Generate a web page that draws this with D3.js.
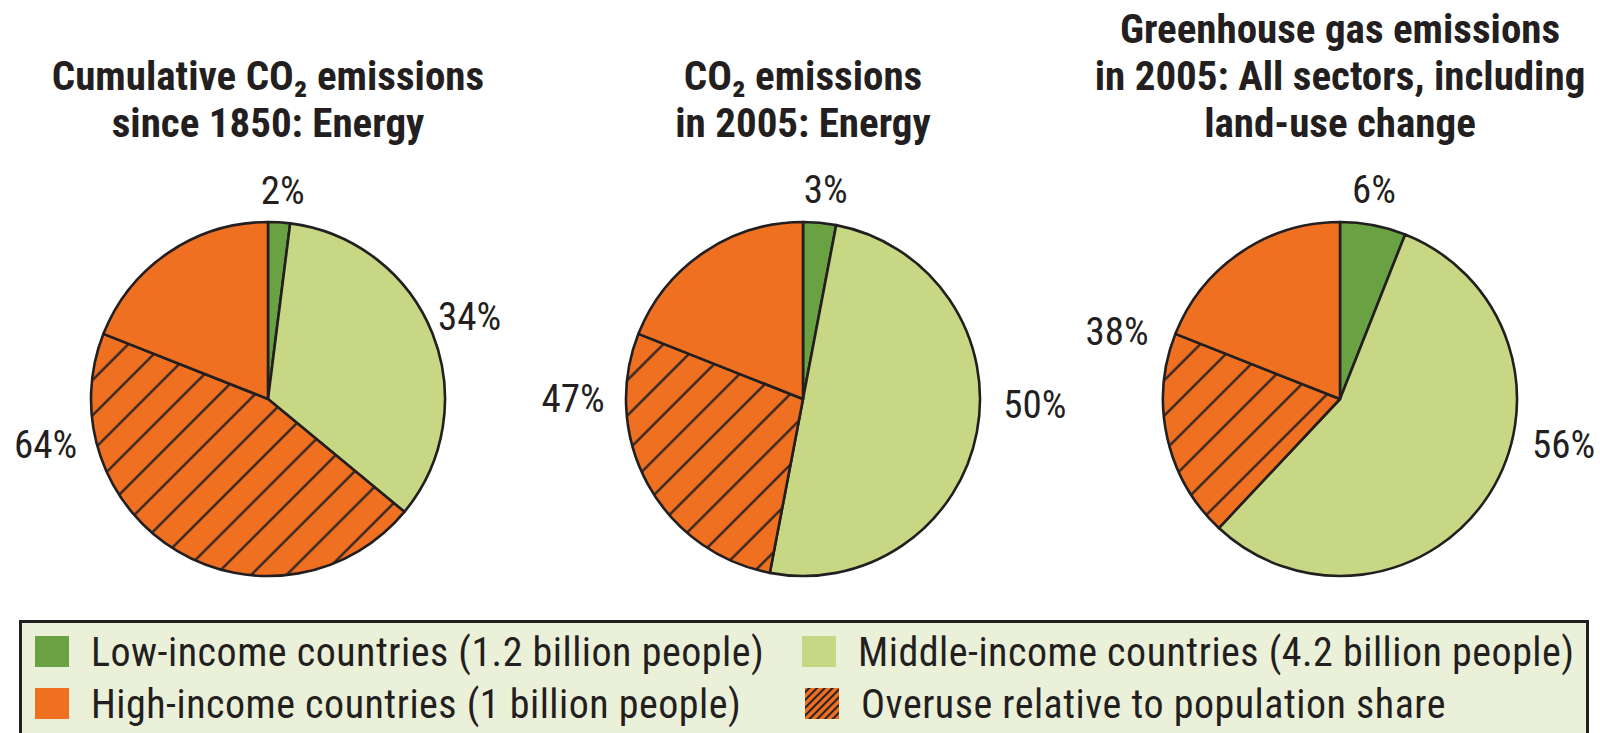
<!DOCTYPE html>
<html><head><meta charset="utf-8">
<script src="https://cdn.jsdelivr.net/npm/d3@7/dist/d3.min.js"></script>
<style>body{margin:0;background:#fff}svg{display:block}</style>
</head><body>
<svg id="chart" width="1600" height="733"></svg>
<script>
// ---------- data ----------
const pieTitles = [
  ["Cumulative CO₂ emissions", "since 1850: Energy"],
  ["CO₂ emissions", "in 2005: Energy"],
  ["Greenhouse gas emissions", "in 2005: All sectors, including", "land-use change"]
];
const categories = [
  "Low-income countries (1.2 billion people)",
  "Middle-income countries (4.2 billion people)",
  "High-income countries (1 billion people)",
  "Overuse relative to population share"
];
const lowIncome    = [2, 3, 6];
const middleIncome = [34, 50, 56];
const highIncome   = [64, 47, 38];
const highIncomePopShare = [19, 19, 19]; // un-hatched part of the high-income slice

// ---------- styles / layout ----------
const INK = "#231f20";
const colors = { low: "#6aa142", middle: "#c8d783", high: "#f07022" };
const FONT = "'Liberation Sans Narrow','Arial Narrow','Roboto Condensed','DejaVu Sans Condensed',sans-serif";
const pieCx = [268, 803, 1340], pieCy = 399, R = 177;
// label placement: [angleDeg, radius] for low, middle, high labels
const labelPolar = [
  [[4, 210], [67.7, 218], [258.6, 227]],
  [[6.2, 211], [91.2, 232], [270.3, 230]],
  [[9.2, 213], [101.4, 228], [287, 233]]
];
const titleBaselines = [[90, 137], [90, 137], [43, 90, 137]];

const svg = d3.select("#chart");
const defs = svg.append("defs");
function hatch(id, size, sw) {
  const p = defs.append("pattern").attr("id", id).attr("patternUnits", "userSpaceOnUse")
    .attr("width", size).attr("height", size).attr("patternTransform", "rotate(45)");
  p.append("rect").attr("width", size).attr("height", size).attr("fill", colors.high);
  p.append("line").attr("x1", size / 2).attr("x2", size / 2).attr("y1", -1).attr("y2", size + 1)
    .attr("stroke", INK).attr("stroke-width", sw);
}
hatch("hatchPie", 25, 2.2);
hatch("hatchLegend", 5.5, 2);

const pie = d3.pie().sort(null).value(d => d.v);
const arc = d3.arc().innerRadius(0).outerRadius(R);
const fillFor = { low: colors.low, middle: colors.middle, over: "url(#hatchPie)", high: colors.high };

pieTitles.forEach((lines, i) => {
  const g = svg.append("g").attr("transform", `translate(${pieCx[i]},${pieCy})`);
  const slices = [
    { k: "low", v: lowIncome[i] },
    { k: "middle", v: middleIncome[i] },
    { k: "over", v: highIncome[i] - highIncomePopShare[i] },
    { k: "high", v: highIncomePopShare[i] }
  ];
  g.selectAll("path").data(pie(slices)).join("path")
    .attr("d", arc)
    .attr("fill", d => fillFor[d.data.k])
    .attr("stroke", INK).attr("stroke-width", 2.6).attr("stroke-linejoin", "round");

  // percentage labels
  const vals = [lowIncome[i], middleIncome[i], highIncome[i]];
  vals.forEach((v, j) => {
    const [a, r] = labelPolar[i][j];
    const t = a * Math.PI / 180;
    g.append("text")
      .attr("x", r * Math.sin(t)).attr("y", -r * Math.cos(t) + 14)
      .attr("text-anchor", "middle")
      .attr("font-family", FONT).attr("font-size", 39).attr("fill", INK)
      .text(v + "%");
  });

  // title
  lines.forEach((line, li) => {
    svg.append("text")
      .attr("x", pieCx[i]).attr("y", titleBaselines[i][li])
      .attr("text-anchor", "middle").attr("font-family", FONT)
      .attr("font-weight", "bold").attr("font-size", 41).attr("fill", INK)
      .text(line);
  });
});

// ---------- legend ----------
svg.append("rect").attr("x", 20.5).attr("y", 621.5).attr("width", 1567).attr("height", 200)
  .attr("fill", "#ebf0d9").attr("stroke", INK).attr("stroke-width", 3);
const legendItems = [
  { name: categories[0], fill: colors.low, x: 35, y: 636 },
  { name: categories[1], fill: colors.middle, x: 802, y: 636 },
  { name: categories[2], fill: colors.high, x: 35, y: 688 },
  { name: categories[3], fill: "url(#hatchLegend)", x: 805, y: 688 }
];
const lg = svg.append("g").selectAll("g").data(legendItems).join("g");
lg.append("rect").attr("x", d => d.x).attr("y", d => d.y).attr("width", 34).attr("height", 31)
  .attr("fill", d => d.fill);
lg.append("text").attr("x", d => d.x + 56).attr("y", d => d.y + 30)
  .attr("font-family", FONT).attr("font-size", 40).attr("letter-spacing", 0.5).attr("fill", INK)
  .text(d => d.name);
</script>
</body></html>
